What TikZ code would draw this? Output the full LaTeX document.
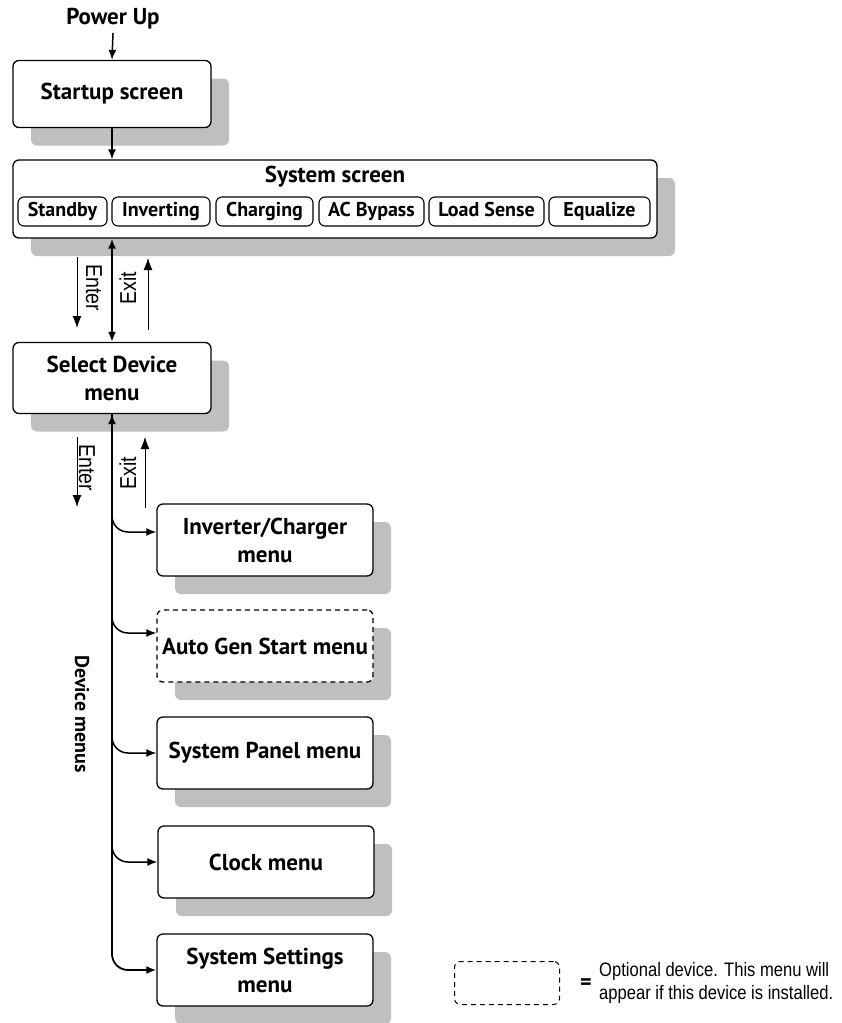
\documentclass[tikz,border=0pt]{standalone}
\usepackage{fontspec}
\setmainfont{PT Sans}
\newfontfamily\narrowfont[FakeStretch=0.85]{Liberation Sans}
\usetikzlibrary{arrows.meta,shadows}

\begin{document}
\begin{tikzpicture}[x=1pt,y=-1pt,
  menu/.style={draw,rounded corners=6pt,line width=1.3pt,fill=white,align=center,inner sep=0pt,
    font=\bfseries\fontsize{23}{28}\selectfont,minimum width=216pt,minimum height=72pt,
    drop shadow={shadow xshift=18pt,shadow yshift=-18pt,fill=black!25,opacity=1}},
  mode/.style={draw,rounded corners=6pt,line width=1.1pt,inner sep=0pt,minimum height=29pt,
    text height=14pt,text depth=4pt,font=\bfseries\fontsize{20}{22}\selectfont},
  optional/.style={dash pattern=on 5pt off 4pt},
  flow/.style={-{Latex[length=10pt,width=8pt]},line width=1.5pt},
  side/.style={-{Latex[length=12pt,width=9pt]},line width=0.9pt},
  tag/.style={font=\narrowfont\fontsize{23}{25}\selectfont}]
\useasboundingbox (0,0) rectangle (842,1023);

\node (power) at (113,19) {\bfseries\fontsize{23}{26}\selectfont Power Up};
\node[menu,minimum width=198pt,minimum height=67pt] (startup) at (112,94) {Startup screen};
\node[menu,minimum width=644pt,minimum height=78pt] (system) at (335,199) {};
\node (systitle) at (335,177) {\bfseries\fontsize{23}{26}\selectfont System screen};
\node[mode,minimum width=89pt] (standby) at (62.5,211.5) {Standby};
\node[mode,minimum width=98pt] (inverting) at (161,211.5) {Inverting};
\node[mode,minimum width=97pt] (charging) at (264.5,211.5) {Charging};
\node[mode,minimum width=105pt] (bypass) at (371.5,211.5) {AC Bypass};
\node[mode,minimum width=115pt] (loadsense) at (486.5,211.5) {Load Sense};
\node[mode,minimum width=101pt] (equalize) at (599.5,211.5) {Equalize};
\node[menu,minimum width=198pt,minimum height=71pt] (select) at (112,378) {Select Device\\menu};

\node[menu] (invcharger) at (265,540) {Inverter/Charger\\menu};
\node[menu,optional] (autogen) at (265,646) {Auto Gen Start menu};
\node[menu] (syspanel) at (265,753) {System Panel menu};
\node[menu] (clock) at (266,862) {Clock menu};
\node[menu] (settings) at (265,970) {System Settings\\menu};

\node[rotate=-90,font=\bfseries\fontsize{20}{22}\selectfont] (devices) at (82,714) {Device menus};

% enter / exit marks
\coordinate (enter1a) at (77,257);
\coordinate (enter1b) at (77,328);
\coordinate (exit1a) at (148,330);
\coordinate (exit1b) at (148,258);
\coordinate (enter2a) at (77,437);
\coordinate (enter2b) at (77,507);
\coordinate (exit2a) at (145,508);
\coordinate (exit2b) at (145,437);
\node[tag,rotate=-90] (enter1) at (94,288) {Enter};
\node[tag,rotate=90] (exit1) at (128,288) {Exit};
\node[tag,rotate=-90] (enter2) at (87,468) {Enter};
\node[tag,rotate=90] (exit2) at (128,473) {Exit};

\draw[flow] (power.south) -- (startup.north);
\draw[flow] (startup.south) -- (startup.south |- system.north);
\draw[{Latex[length=10pt,width=8pt]}-{Latex[length=10pt,width=8pt]},line width=1.8pt] (select.north |- system.south) -- (select.north);
\draw[side] (enter1a) -- (enter1b);
\draw[side] (exit1a) -- (exit1b);
\draw[side] (enter2a) -- (enter2b);
\draw[side] (exit2a) -- (exit2b);

\draw[{Latex[length=10pt,width=8pt]}-{Latex[length=10pt,width=8pt]},line width=1.8pt,rounded corners=16pt] (select.south) |- (settings.west);
\draw[flow,rounded corners=16pt] (select.south) |- ([yshift=8pt]invcharger.west);
\draw[flow,rounded corners=16pt] (select.south) |- ([yshift=13pt]autogen.west);
\draw[flow,rounded corners=16pt] (select.south) |- (syspanel.west);
\draw[flow,rounded corners=16pt] (select.south) |- (clock.west);

% legend
\node[draw,optional,rounded corners=6pt,line width=1pt,minimum width=105pt,minimum height=43pt] (optbox) at (507,983) {};
\node[font=\bfseries\fontsize{22}{24}\selectfont] (equals) at (586,984) {=};
\node[anchor=west,align=left,inner sep=0pt,font=\narrowfont\fontsize{19.5}{23}\selectfont] (optnote) at (599,983) {Optional device. This menu will\\appear if this device is installed.};
\end{tikzpicture}
\end{document}
